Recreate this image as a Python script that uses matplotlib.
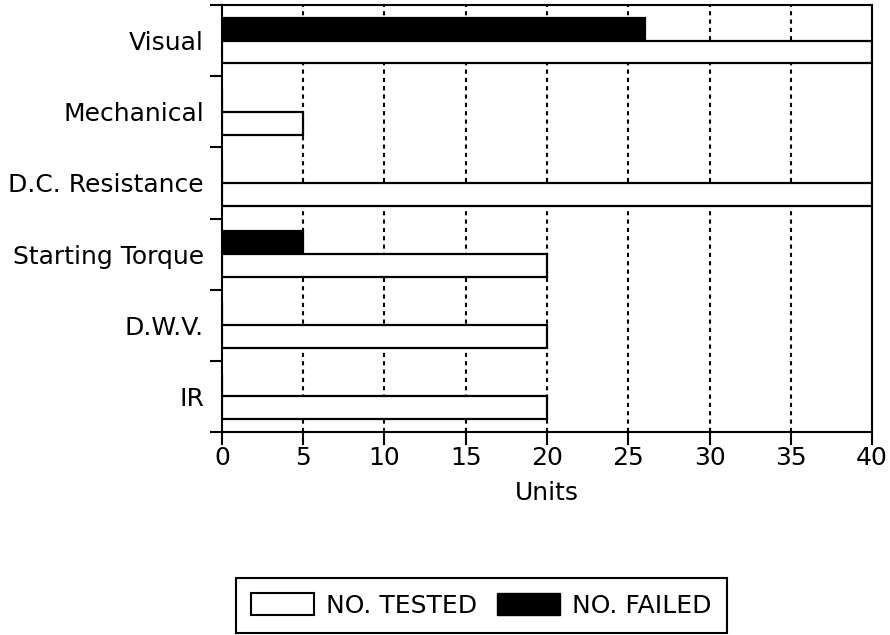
import numpy as np
import matplotlib.pyplot as plt
from matplotlib.patches import Patch

# test categories, top to bottom
categories = ["Visual", "Mechanical", "D.C. Resistance", "Starting Torque", "D.W.V.", "IR"]
no_tested = [40, 5, 40, 20, 20, 20]
no_failed = [26, 0, 0, 5, 0, 0]
x_ticks = [0, 5, 10, 15, 20, 25, 30, 35, 40]

plt.rcParams['font.family'] = ['DejaVu Sans']
fs = 18

fig = plt.figure(figsize=(8.9, 6.35), dpi=100)
ax = fig.add_axes([0.2494, 0.3197, 0.9798 - 0.2494, 0.992 - 0.3197])

y = np.arange(len(categories))
h = 0.32
ax.barh(y - h / 2, no_failed, height=h, color="black", edgecolor="black", linewidth=1.6, zorder=3)
ax.barh(y + h / 2, no_tested, height=h, color="white", edgecolor="black", linewidth=1.6, zorder=3)

ax.set_xlim(0, 40)
ax.set_ylim(len(categories) - 0.5, -0.5)
ax.set_xticks(x_ticks)
ax.set_xticklabels([str(v) for v in x_ticks], fontsize=fs)
ax.set_yticks(y)
ax.set_yticklabels(categories, fontsize=fs)
ax.set_yticks(np.arange(-0.5, len(categories)), minor=True)
ax.tick_params(axis="y", which="major", length=0, pad=13)
ax.tick_params(axis="y", which="minor", length=9, width=1.5, direction="out")
ax.tick_params(axis="x", length=9, width=1.5, direction="out", pad=1)

for v in x_ticks[1:-1]:
    ax.axvline(v, color="black", linestyle=(0, (2, 2)), linewidth=1.5, zorder=1)

for s in ax.spines.values():
    s.set_linewidth(1.5)

ax.set_xlabel("Units", fontsize=fs, labelpad=8)

handles = [Patch(facecolor="white", edgecolor="black", linewidth=1.5),
           Patch(facecolor="black", edgecolor="black")]
leg = fig.legend(handles, ["NO. TESTED", "NO. FAILED"], loc="center",
                 bbox_to_anchor=(0.541, 0.047), ncol=2, fontsize=fs,
                 frameon=True, fancybox=False, framealpha=1, handlelength=2.5, handleheight=1.0,
                 handletextpad=0.5, columnspacing=0.8, borderpad=0.6)
leg.get_frame().set_edgecolor("black")
leg.get_frame().set_linewidth(1.5)

fig.savefig("out.png", dpi=100)
